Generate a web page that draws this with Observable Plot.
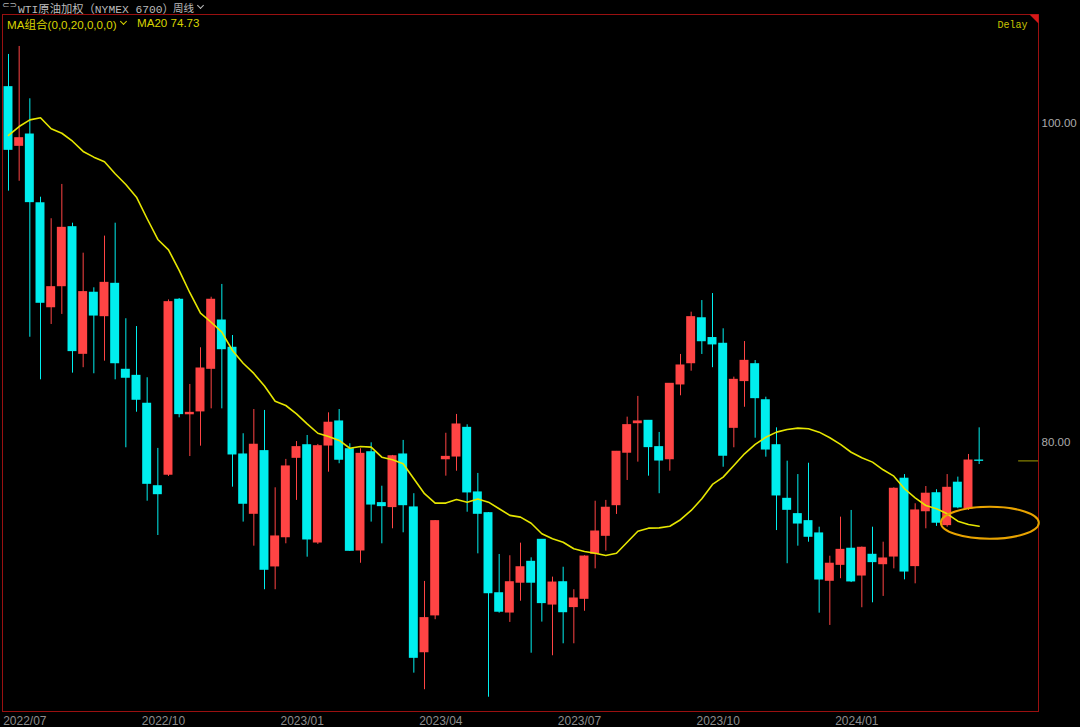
<!DOCTYPE html>
<html><head><meta charset="utf-8">
<script src="https://cdn.jsdelivr.net/npm/d3@7"></script>
<script src="https://cdn.jsdelivr.net/npm/@observablehq/plot@0.6"></script>
<style>
html,body{margin:0;padding:0;background:#000;overflow:hidden}
#wrap{position:relative;width:1080px;height:727px;background:#000}
#chart svg{position:absolute;left:0;top:0}
.hdr{position:absolute;white-space:pre;line-height:13px;height:13px}
.chev{position:absolute;width:4px;height:4px;border-right:1px solid;border-bottom:1px solid;transform:rotate(45deg)}
</style></head><body>
<div id="wrap">
  <div id="chart"></div>
  <div class="hdr" style="left:2px;top:0px;font:9px 'DejaVu Sans';color:#b0b0b0">⊂⊃</div>
  <div class="hdr" style="left:18px;top:0px;font:11.3px 'Liberation Mono','Noto Sans CJK SC';color:#bcbcbc">WTI原油加权（NYMEX 6700）</div>
  <div class="hdr" style="left:173px;top:0px;font:10.5px 'Noto Sans CJK SC';color:#bcbcbc">周线</div>
  <div class="chev" style="left:198px;top:3px;color:#bcbcbc"></div>
  <div class="hdr" style="left:7px;top:16px;font:11.6px 'Liberation Sans','Noto Sans CJK SC';color:#d9d400">MA组合(0,0,20,0,0,0)</div>
  <div class="chev" style="left:121px;top:19px;color:#d9d400"></div>
  <div class="hdr" style="left:137px;top:16px;font:11.6px 'Liberation Sans';color:#d9d400">MA20 74.73</div>
</div>
<script>
const opens = [102.26, 98.58, 99.29, 94.98, 88.46, 89.78, 93.48, 85.54, 89.37, 87.90,
  89.93, 84.54, 84.16, 82.41, 77.24, 77.96, 88.93, 81.75, 81.93, 84.60,
  87.63, 85.92, 79.23, 75.51, 79.44, 72.21, 74.04, 79.02, 79.81, 73.71,
  79.79, 81.30, 79.56, 73.21, 79.37, 76.18, 75.93, 79.23, 75.91, 66.83,
  69.14, 78.93, 79.10, 80.90, 76.85, 75.55, 70.53, 69.32, 71.19, 72.50,
  73.88, 69.82, 71.22, 69.66, 70.18, 73.00, 74.13, 76.05, 79.34, 81.19,
  81.34, 79.69, 78.93, 83.62, 84.95, 87.77, 86.53, 86.17, 80.90, 83.83,
  84.89, 82.63, 79.81, 76.45, 75.49, 75.05, 74.28, 71.31, 72.31, 73.32,
  71.64, 72.94, 72.35, 72.83, 77.71, 72.23, 75.67, 76.80, 74.80, 77.46,
  75.83, 78.85];
const highs = [104.31, 104.81, 101.53, 95.36, 94.01, 96.16, 93.73, 91.85, 89.68, 92.92,
  93.73, 87.74, 87.25, 84.04, 79.61, 88.92, 89.01, 83.62, 85.92, 89.09,
  89.89, 86.69, 80.53, 82.05, 81.99, 77.14, 78.92, 80.04, 80.42, 79.86,
  81.84, 82.05, 79.90, 79.59, 79.96, 77.24, 79.17, 80.11, 76.77, 71.27,
  75.09, 80.56, 81.74, 81.09, 78.04, 75.59, 72.96, 72.88, 73.67, 72.75,
  73.90, 71.54, 72.16, 70.75, 72.88, 76.30, 76.35, 79.42, 81.57, 82.87,
  81.36, 80.61, 83.68, 85.50, 88.15, 88.88, 89.32, 87.11, 84.08, 86.31,
  85.12, 82.82, 80.90, 78.81, 77.97, 78.68, 74.67, 72.85, 75.30, 75.72,
  73.43, 74.67, 73.73, 77.14, 77.97, 76.14, 77.22, 77.02, 77.97, 77.81,
  79.23, 80.90];
const lows = [95.74, 96.36, 86.58, 83.91, 87.38, 88.01, 84.33, 84.67, 84.29, 85.08,
  83.91, 79.65, 81.88, 76.30, 74.15, 77.85, 81.53, 79.10, 79.75, 82.09,
  82.09, 77.18, 74.99, 73.48, 70.75, 70.75, 73.63, 76.35, 72.79, 73.59,
  78.12, 78.65, 73.15, 72.41, 74.99, 73.63, 74.57, 74.32, 65.52, 64.48,
  68.87, 77.87, 78.18, 75.61, 73.00, 64.01, 69.28, 68.70, 70.03, 66.77,
  68.72, 66.61, 67.36, 67.36, 69.40, 72.06, 73.17, 75.47, 77.60, 78.75,
  77.87, 76.77, 78.18, 82.91, 84.45, 85.50, 84.67, 78.43, 79.65, 82.19,
  80.25, 79.06, 74.46, 72.38, 73.48, 73.73, 69.28, 68.51, 71.44, 71.20,
  69.62, 69.93, 70.33, 72.06, 71.37, 71.12, 74.57, 74.72, 74.67, 75.83,
  75.72, 78.60];
const closes = [98.33, 99.06, 95.05, 88.74, 89.72, 93.44, 85.71, 89.41, 87.94, 89.99,
  84.95, 84.04, 82.66, 77.39, 76.74, 88.78, 81.76, 81.84, 84.62, 88.93,
  85.83, 79.23, 76.14, 79.84, 72.00, 74.09, 78.48, 79.69, 73.90, 79.75,
  81.22, 78.90, 73.19, 79.27, 76.09, 75.99, 79.12, 76.05, 66.48, 68.97,
  75.05, 79.08, 81.11, 76.85, 75.51, 70.53, 69.37, 71.22, 72.16, 71.19,
  69.91, 71.20, 69.34, 70.20, 72.83, 74.40, 75.89, 79.40, 81.07, 81.30,
  79.69, 78.85, 83.66, 84.81, 87.84, 86.33, 86.13, 79.15, 83.91, 85.10,
  82.76, 79.54, 76.66, 75.76, 74.90, 74.07, 71.39, 72.38, 73.25, 71.27,
  73.38, 72.48, 72.71, 77.08, 71.89, 75.72, 76.77, 74.95, 77.14, 75.91,
  78.85, 78.83];
const ma20 = [99.23, 99.79, 100.21, 100.34, 99.65, 99.37, 98.87, 98.23, 97.87, 97.58,
  96.83, 96.16, 95.36, 94.01, 92.71, 92.06, 90.77, 89.37, 88.09, 87.52,
  86.90, 85.75, 84.95, 84.31, 83.52, 82.57, 82.30, 81.78, 81.15, 80.56,
  80.36, 80.11, 79.62, 79.73, 79.69, 79.06, 78.90, 78.65, 77.71, 76.77,
  76.18, 76.18, 76.41, 76.24, 76.44, 76.24, 75.83, 75.41, 75.30, 74.92,
  74.26, 73.94, 73.73, 73.32, 73.15, 73.04, 72.90, 73.04, 73.73, 74.42,
  74.61, 74.63, 74.73, 75.14, 75.72, 76.45, 77.35, 77.81, 78.54, 79.27,
  79.86, 80.31, 80.63, 80.80, 80.88, 80.84, 80.63, 80.28, 79.86, 79.37,
  79.02, 78.75, 78.27, 77.87, 77.08, 76.51, 76.03, 75.83, 75.51, 75.05,
  74.84, 74.73];
const tickLabels = ["2022/07", "2022/10", "2023/01", "2023/04", "2023/07", "2023/10", "2024/01"];
const tickIndex = [0, 13, 26, 39, 52, 65, 78];
const yTickValues = [100, 80];

const candles = opens.map((o, i) => ({
  i, open: o, high: highs[i], low: lows[i], close: closes[i], ma: ma20[i], up: closes[i] >= o
}));
const n = candles.length;
const last = candles[n - 1];
const UP = "#ff4444", DOWN = "#00eeee";
const xDom = [-0.5625, 96.5625];
const yDom = [63.115, 106.815];

const ellipseSymbol = {draw(ctx) {
  const rx = 49, ry = 16, k = 0.5523;
  ctx.moveTo(rx, 0);
  ctx.bezierCurveTo(rx, ry * k, rx * k, ry, 0, ry);
  ctx.bezierCurveTo(-rx * k, ry, -rx, ry * k, -rx, 0);
  ctx.bezierCurveTo(-rx, -ry * k, -rx * k, -ry, 0, -ry);
  ctx.bezierCurveTo(rx * k, -ry, rx, -ry * k, rx, 0);
  ctx.closePath();
}};
const cornerSymbol = {draw(ctx) {
  ctx.moveTo(-9, 0); ctx.lineTo(0, 0); ctx.lineTo(0, 9); ctx.closePath();
}};

const chart = Plot.plot({
  width: 1080, height: 727,
  marginLeft: 2, marginRight: 42, marginTop: 14, marginBottom: 16,
  style: {background: "#000", fontFamily: "'Liberation Sans', Arial, sans-serif", overflow: "visible"},
  x: {type: "linear", domain: xDom, axis: null},
  y: {type: "linear", domain: yDom, axis: null},
  marks: [
    Plot.frame({stroke: "#9a1010"}),
    Plot.dot([0], {frameAnchor: "top-right", symbol: cornerSymbol, fill: "#d81818", stroke: "none"}),
    Plot.text(["Delay"], {frameAnchor: "top-right", dx: -11, dy: 10, textAnchor: "end", lineAnchor: "middle",
      fill: "#c8c400", fontFamily: "'Liberation Mono', monospace", fontSize: 10}),
    Plot.ruleX(candles, {x: "i", y1: "low", y2: "high", stroke: d => d.up ? UP : DOWN, strokeWidth: 1}),
    Plot.rect(candles, {x1: d => d.i - 0.42, x2: d => d.i + 0.42, y1: "open", y2: "close",
      fill: d => d.up ? UP : DOWN, insetTop: -0.5, insetBottom: -0.5}),
    Plot.line(candles, {x: "i", y: "ma", stroke: "#e6e600", strokeWidth: 1.6}),
    Plot.ruleY([last], {y: "close", x1: d => n + 2.7, x2: () => xDom[1], stroke: "#6e6a00", strokeWidth: 1.5}),
    Plot.dot([last], {x: d => d.i + 1, y: "ma", dy: -3.5, symbol: ellipseSymbol, r: 3,
      stroke: "#e8a300", strokeWidth: 2, fill: "none"}),
    Plot.text(yTickValues, {y: d => d, frameAnchor: "right", text: d => d.toFixed(2), textAnchor: "start",
      lineAnchor: "middle", dx: 3, fill: "#ababab", fontSize: 11.5}),
    Plot.text(tickIndex, {x: d => d - 0.5, frameAnchor: "bottom", text: (d, i) => tickLabels[i],
      textAnchor: "start", lineAnchor: "middle", dy: 10, fill: "#8e8e8e", fontSize: 12})
  ]
});
document.getElementById("chart").appendChild(chart);
</script>
</body></html>
